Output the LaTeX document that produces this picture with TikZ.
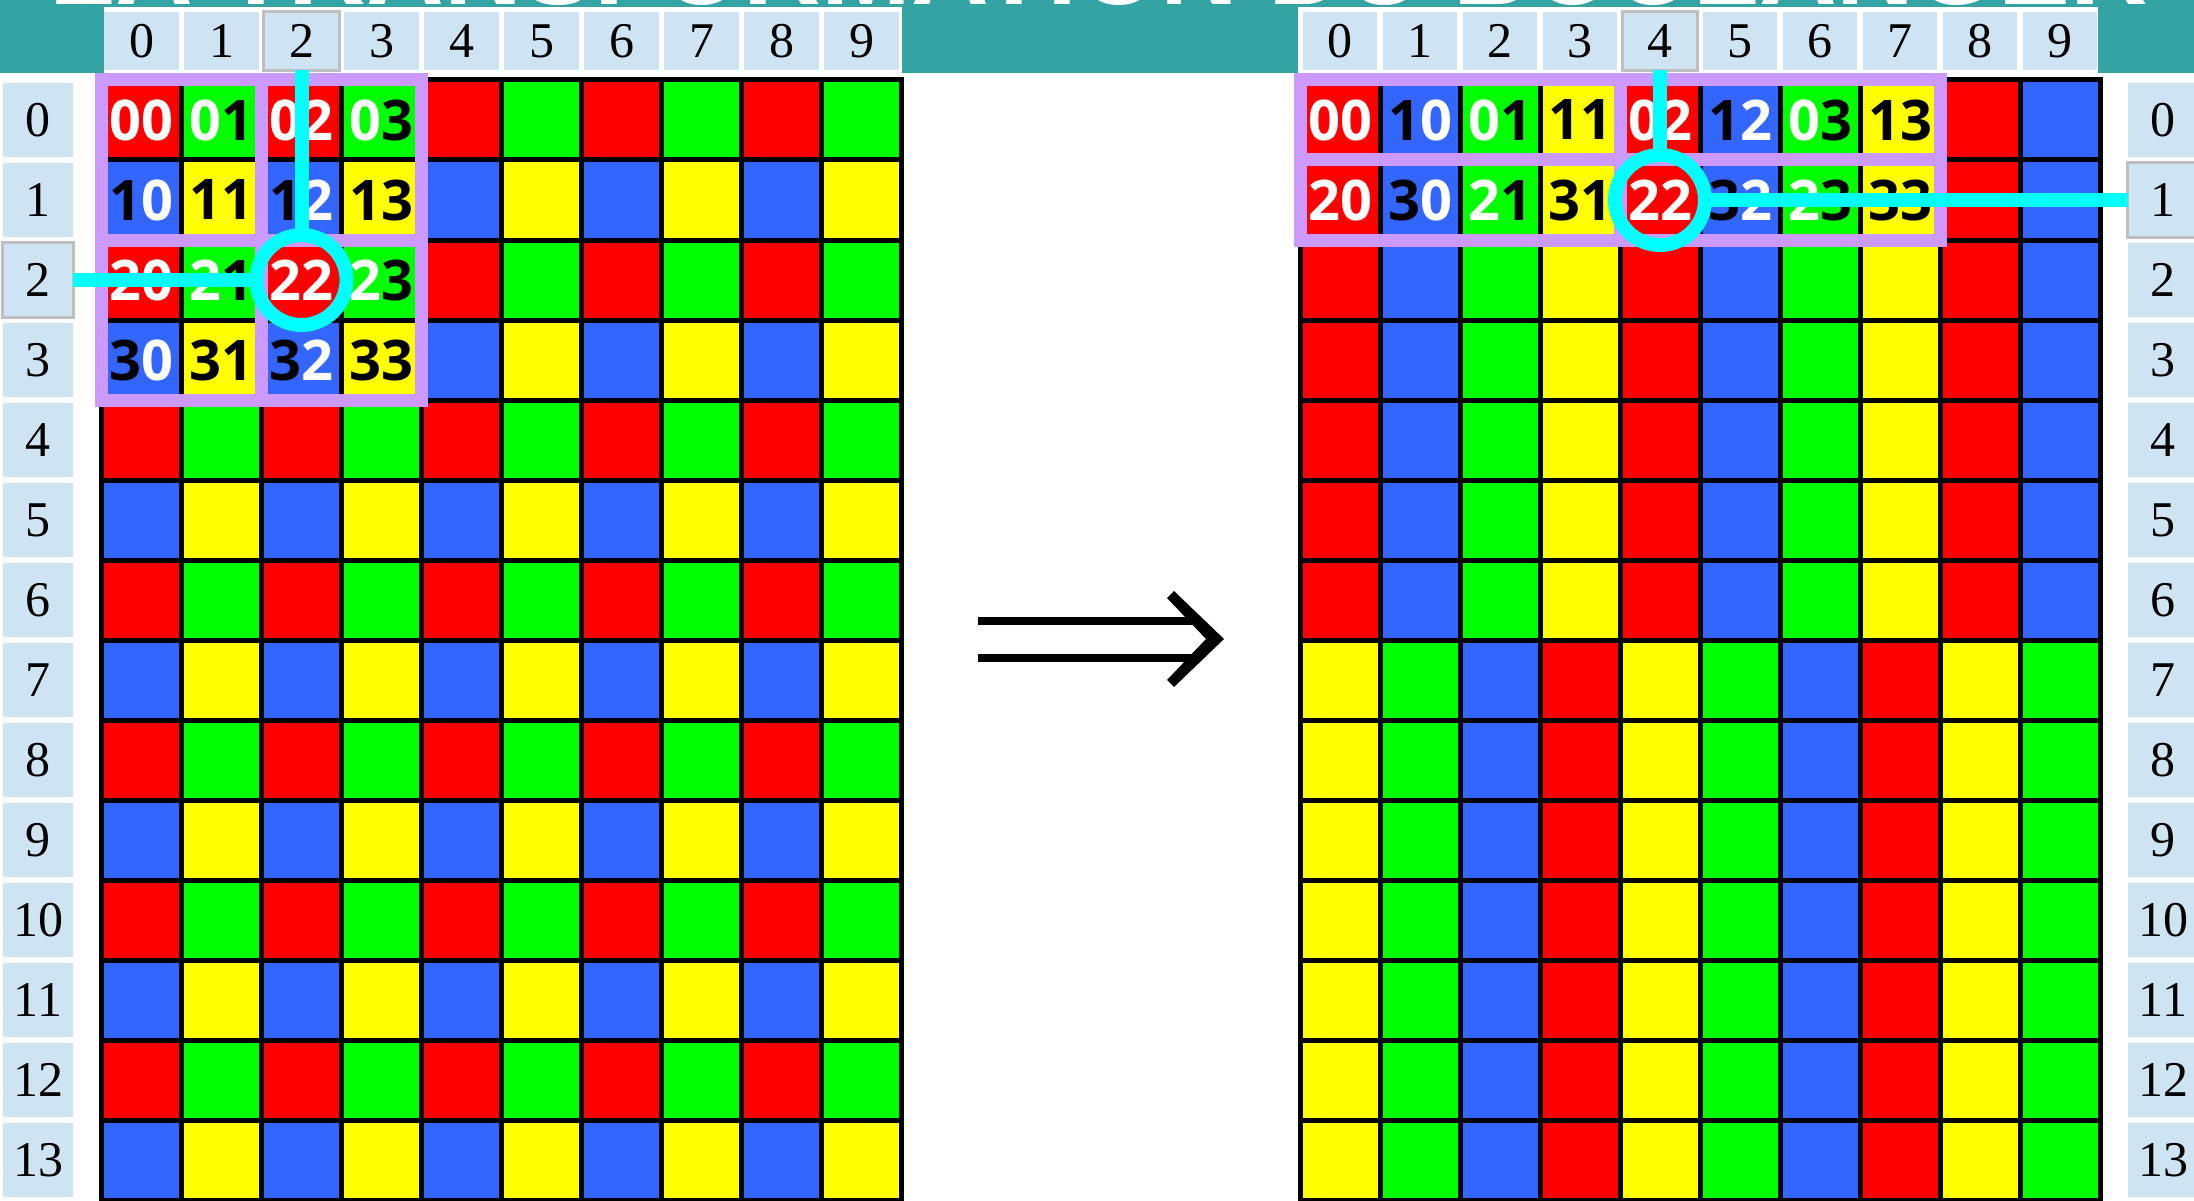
\documentclass[tikz,border=0pt]{standalone}
\usepackage{fontspec}
\setmainfont{Liberation Serif}
\newfontfamily\cellfont{Open Sans}
\newfontfamily\titlefont{Liberation Sans}
\definecolor{cred}{RGB}{255,0,0}
\definecolor{cgreen}{RGB}{0,255,0}
\definecolor{cblue}{RGB}{51,102,255}
\definecolor{cyellow}{RGB}{255,255,0}
\definecolor{lav}{RGB}{204,153,255}
\definecolor{tealband}{RGB}{52,163,164}
\definecolor{lblue}{RGB}{207,228,242}
\definecolor{hgray}{RGB}{191,191,191}
\definecolor{hcyan}{RGB}{0,255,255}
\newcommand\hdrfont{\fontsize{50}{50}\selectfont}
\newcommand\cellfnt{\cellfont\bfseries\fontsize{56}{56}\selectfont}
\newcommand\dg[1]{\ifodd#1\relax\textcolor{black}{#1}\else\textcolor{white}{#1}\fi}
\begin{document}
\begin{tikzpicture}[x=1pt,y=-1pt,
  gridline/.style={line width=5pt, black, line cap=rect},
  lavline/.style={line width=13pt, lav, line cap=rect},
  hdrbox/.style={rectangle, fill=lblue, minimum width=75pt, minimum height=58pt, inner sep=0pt, font=\hdrfont},
  rowbox/.style={rectangle, fill=lblue, minimum width=70pt, minimum height=74pt, inner sep=0pt, font=\hdrfont},
  hilite/.style={draw=hgray, line width=3pt},
  celltext/.style={inner sep=0pt, font=\cellfnt},
  hring/.style={circle, draw=hcyan, line width=14pt, minimum size=90pt, inner sep=0pt, outer sep=0pt},
  hline/.style={draw=hcyan, line width=14pt},
]
\useasboundingbox (0,0) rectangle (2194,1201);
\clip (0,0) rectangle (2194,1201);
% title band
\fill[tealband] (0,0) rectangle (2194,73);
\node[anchor=base, text=white, inner sep=0pt] (title) at (1099,4.5)
  {\resizebox{2098pt}{!}{\titlefont\bfseries LA TRANSFORMATION DU BOULANGER}};
% header backgrounds
\fill[white] (104,7) rectangle (902,73);
\fill[white] (1298,7) rectangle (2098,73);
% column headers
\foreach \c in {0,...,9}{
  \node[hdrbox] (hL\c) at ({141.5+80*\c},41) {\c};
  \node[hdrbox, minimum width=74pt] (hR\c) at ({1340+80*\c},41) {\c};
}
\draw[hilite] (hL2.south west) rectangle (hL2.north east);
\draw[hilite] (hR4.south west) rectangle (hR4.north east);
% row labels
\foreach \r in {0,...,13}{
  \node[rowbox] (rL\r) at (38,{120+80*\r}) {\r};
  \node[rowbox] (rR\r) at (2163,{120+80*\r}) {\r};
}
\draw[hilite] (rL2.south west) rectangle (rL2.north east);
\draw[hilite] (rR1.south west) rectangle (rR1.north east);
% left grid cells
\foreach \r in {0,...,13}{\foreach \c in {0,...,9}{
  \pgfmathtruncatemacro\kk{mod(\r,2)*2+mod(\c,2)}
  \ifcase\kk\relax \def\cellcol{cred}\or \def\cellcol{cgreen}\or \def\cellcol{cblue}\else \def\cellcol{cyellow}\fi
  \fill[\cellcol] ({101.5+80*\c},{80+80*\r}) rectangle ({181.5+80*\c},{160+80*\r});
}}
% right grid cells
\foreach \r in {0,...,13}{\foreach \c in {0,...,9}{
  \pgfmathtruncatemacro\kk{(\r>6)*4+mod(\c,4)}
  \ifcase\kk\relax \def\cellcol{cred}\or \def\cellcol{cblue}\or \def\cellcol{cgreen}\or \def\cellcol{cyellow}\or
    \def\cellcol{cyellow}\or \def\cellcol{cgreen}\or \def\cellcol{cblue}\else \def\cellcol{cred}\fi
  \fill[\cellcol] ({1300+80*\c},{80+80*\r}) rectangle ({1380+80*\c},{160+80*\r});
}}
% grid lines
\foreach \i in {0,...,10}{
  \draw[gridline] ({101.5+80*\i},80) -- ({101.5+80*\i},1200);
  \draw[gridline] ({1300+80*\i},80) -- ({1300+80*\i},1200);
}
\foreach \j in {0,...,14}{
  \draw[gridline] (101.5,{80+80*\j}) -- (901.5,{80+80*\j});
  \draw[gridline] (1300,{80+80*\j}) -- (2100,{80+80*\j});
}
% lavender block frames
\foreach \x in {101.5,261.5,421.5}{\draw[lavline] (\x,80) -- (\x,400);}
\foreach \y in {80,240,400}{\draw[lavline] (101.5,\y) -- (421.5,\y);}
\foreach \x in {1300,1620,1940}{\draw[lavline] (\x,80) -- (\x,240);}
\foreach \y in {80,160,240}{\draw[lavline] (1300,\y) -- (1940,\y);}
% cell labels left
\foreach \r in {0,...,3}{\foreach \c in {0,...,3}{
  \node[celltext] (tL\r\c) at ({141.5+80*\c},{120+80*\r}) {\dg{\r}\dg{\c}};
}}
% cell labels right
\foreach \r in {0,1}{\foreach \c in {0,...,7}{
  \pgfmathtruncatemacro\da{2*\r+mod(\c,2)}
  \pgfmathtruncatemacro\db{floor(\c/2)}
  \node[celltext] (tR\r\c) at ({1340+80*\c},{120+80*\r}) {\dg{\da}\dg{\db}};
}}
% cyan highlights
\node[hring] (cL) at (301.5,280) {};
\node[hring] (cR) at (1660,200) {};
\draw[hline] (hL2.south) -- (cL.north);
\draw[hline] (rL2.east) -- (cL.west);
\draw[hline] (hR4.south) -- (cR.north);
\draw[hline] (cR.east) -- (rR1.west);
% implies arrow
\fill[black] (978,617) rectangle (1192,625);
\fill[black] (978,654) rectangle (1192,662);
\fill[black] (1174,591) -- (1224,639) -- (1174,687) -- (1167,680) -- (1206,639) -- (1167,598) -- cycle;
\end{tikzpicture}
\end{document}
